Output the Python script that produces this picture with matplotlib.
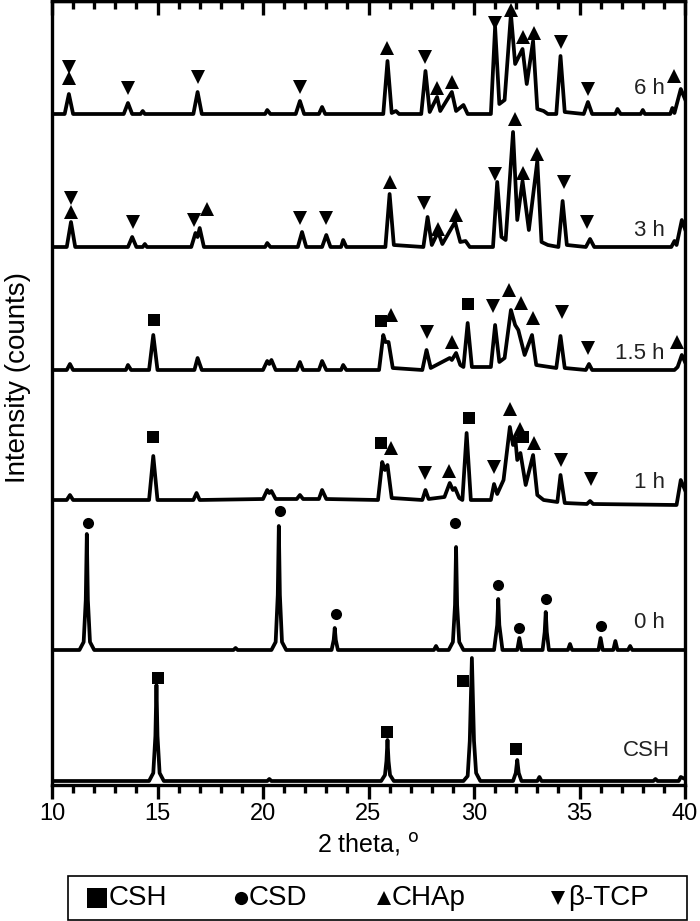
#!/usr/bin/env python3
"""
XRD patterns of CSH conversion, stacked: CSH, 0 h, 1 h, 1.5 h, 3 h, 6 h.
"""

import numpy as np
import matplotlib
matplotlib.use('Agg')  # non-interactive backend
import matplotlib.pyplot as plt
from matplotlib.lines import Line2D
from matplotlib.patches import Rectangle

plt.rcParams['font.family'] = ['Liberation Sans', 'DejaVu Sans']

# ---------------------------------------------------------------------------
# Data: 2 theta vertices and intensity (relative to each pattern's baseline)
# ---------------------------------------------------------------------------
tt_6h = [10.0, 10.6, 10.8, 11.0, 13.4, 13.6, 13.8, 14.2, 14.3, 14.4, 16.7, 16.9, 17.1,
         20.1, 20.2, 20.35, 21.55, 21.75, 21.95, 22.65, 22.8, 22.95, 25.7, 25.9, 26.1,
         26.3, 26.45, 27.5, 27.7, 27.9, 28.25, 28.4, 28.95, 29.15, 29.5, 29.7, 30.8,
         31.0, 31.2, 31.45, 31.75, 31.95, 32.3, 32.5, 32.8, 33.0, 33.3, 33.5, 33.9,
         34.1, 34.3, 35.2, 35.4, 35.6, 36.7, 36.8, 36.95, 37.9, 38.0, 38.1, 39.3,
         39.4, 39.5, 39.8, 40.0]
i_6h = [0, 0, 20, 0, 0, 11, 0, 0, 3, 0, 0, 22, 0,
        0, 4, 0, 0, 13, 0, 0, 7, 0, 0, 53, 1,
        3, 0, 0, 43, 2, 17, 3, 22, 3, 9, 0, 0,
        87, 10, 14, 100, 50, 65, 30, 73, 5, 3, 0, 0,
        58, 2, 0, 12, 0, 0, 5, 0, 0, 4, 0, 0,
        6, 1, 25, 15]

tt_3h = [10.0, 10.7, 10.9, 11.1, 13.6, 13.8, 14.0, 14.3, 14.4, 14.5, 16.6, 16.8, 16.9,
         17.0, 17.2, 20.1, 20.2, 20.35, 21.65, 21.85, 22.05, 22.8, 23.0, 23.2, 23.7,
         23.8, 23.95, 25.8, 26.0, 26.2, 27.6, 27.8, 28.0, 28.3, 28.5, 29.1, 29.35,
         29.6, 29.8, 30.9, 31.1, 31.3, 31.5, 31.85, 32.05, 32.3, 32.6, 33.0, 33.2,
         33.5, 34.0, 34.2, 34.4, 35.3, 35.5, 35.7, 39.35, 39.5, 39.6, 39.85, 40.0]
i_3h = [0, 0, 25, 0, 0, 10, 0, 0, 3, 0, 0, 14, 10,
        19, 0, 0, 4, 0, 0, 15, 0, 0, 12, 0, 0,
        7, 0, 0, 53, 2, 0, 30, 2, 15, 3, 25, 5,
        6, 0, 0, 65, 10, 7, 115, 27, 66, 17, 86, 5,
        2, 0, 46, 2, 0, 8, 0, 0, 6, 2, 27, 18]

tt_15h = [10.0, 10.7, 10.85, 11.0, 13.5, 13.6, 13.75, 14.6, 14.8, 15.0, 16.75, 16.9,
          17.1, 20.0, 20.2, 20.3, 20.4, 20.6, 21.6, 21.75, 21.9, 22.65, 22.8, 23.0,
          23.7, 23.8, 23.95, 25.5, 25.7, 25.8, 25.95, 26.15, 27.55, 27.75, 27.95,
          28.85, 28.95, 29.15, 29.35, 29.5, 29.7, 29.9, 30.8, 31.0, 31.2, 31.45,
          31.75, 31.95, 32.1, 32.4, 32.75, 32.95, 33.9, 34.1, 34.3, 35.3, 35.45,
          35.6, 39.5, 39.65, 39.85, 40.0]
i_15h = [0, 0, 6, 0, 0, 5, 0, 0, 35, 0, 0, 12,
         0, 0, 9, 6, 10, 0, 0, 8, 0, 0, 9, 0,
         0, 5, 0, 0, 35, 28, 28, 2, 0, 20, 2,
         12, 10, 17, 5, 3, 47, 3, 3, 45, 8, 12,
         60, 45, 40, 15, 35, 5, 2, 34, 2, 0, 6,
         0, 0, 3, 15, 8]

tt_1h = [10.0, 10.7, 10.85, 11.0, 14.6, 14.8, 15.0, 16.7, 16.85, 17.0, 20.0, 20.2,
         20.3, 20.4, 20.6, 21.6, 21.75, 21.9, 22.65, 22.8, 23.0, 25.45, 25.65, 25.78,
         25.9, 26.1, 27.55, 27.7, 27.85, 28.6, 28.85, 29.0, 29.1, 29.3, 29.45, 29.65,
         29.85, 30.8, 30.95, 31.1, 31.4, 31.7, 31.85, 31.95, 32.05, 32.2, 32.45, 32.8,
         33.0, 33.3, 33.95, 34.1, 34.3, 35.35, 35.5, 35.65, 39.6, 39.8, 40.0]
i_1h = [0, 0, 5, 0, 0, 44, 0, 0, 7, 0, 1, 10,
        7, 9, 1, 1, 5, 1, 1, 10, 1, 0, 38, 30,
        35, 2, 0, 10, 1, 3, 17, 10, 12, 2, 0, 67,
        0, 0, 16, 6, 20, 73, 55, 63, 40, 47, 15, 45,
        5, 0, -2, 25, -3, -4, -1, -4, -5, 20, 10]

tt_0h = [10.0, 11.3, 11.5, 11.6, 11.65, 11.7, 11.8, 12.0, 18.6, 18.7, 18.8, 20.4,
         20.6, 20.7, 20.75, 20.8, 20.9, 21.1, 23.25, 23.35, 23.4, 23.45, 23.55, 28.1,
         28.2, 28.3, 28.8, 29.0, 29.1, 29.15, 29.2, 29.3, 29.5, 30.95, 31.1, 31.15,
         31.2, 31.35, 32.05, 32.15, 32.25, 33.25, 33.35, 33.4, 33.45, 33.55, 34.45,
         34.55, 34.65, 35.9, 36.0, 36.1, 36.6, 36.7, 36.8, 37.3, 37.4, 37.5, 40.0]
i_0h = [0, 0, 8, 50, 116, 50, 8, 0, 0, 2, 0, 0,
        8, 55, 124, 55, 8, 0, 0, 10, 22, 10, 0, 0,
        4, 0, 0, 8, 45, 103, 45, 8, 0, 0, 25, 51,
        25, 0, 0, 12, 0, 0, 18, 38, 18, 0, 0,
        6, 0, 0, 12, 0, 0, 9, 0, 0, 4, 0, 0]

tt_csh = [10.0, 14.6, 14.8, 14.9, 14.95, 15.0, 15.1, 15.3, 20.2, 20.3, 20.4, 25.6,
          25.78, 25.85, 25.9, 25.95, 26.02, 26.2, 29.5, 29.7, 29.8, 29.9, 30.0, 30.1,
          30.3, 31.85, 31.98, 32.05, 32.12, 32.25, 33.0, 33.1, 33.2, 38.5, 38.6, 38.7,
          39.7, 39.8, 40.0]
i_csh = [0, 0, 8, 45, 96, 45, 8, 0, 0, 2, 0, 0,
         6, 20, 41, 20, 6, 0, 0, 5, 40, 123, 40, 8,
         0, 0, 8, 21, 8, 0, 0, 4, 0, 0, 2, 0,
         0, 4, 2]

patterns = ['CSH', '0 h', '1 h', '1.5 h', '3 h', '6 h']
offsets = [4, 135, 285, 415, 538, 671]
two_theta = [tt_csh, tt_0h, tt_1h, tt_15h, tt_3h, tt_6h]
intensity = [i_csh, i_0h, i_1h, i_15h, i_3h, i_6h]
label_y = [35, 163, 303, 432, 555, 697]

# Phase markers: S = CSH, D = CSD, H = CHAp, T = beta-TCP
mk_x = [15.0, 25.9, 29.5, 32.0,
        11.7, 20.8, 23.45, 29.1, 31.15, 32.15, 33.4, 36.0,
        14.8, 25.6, 26.05, 27.7, 28.8, 29.75, 30.95, 31.7, 32.2, 32.3, 32.85, 34.1, 35.55,
        14.85, 25.6, 26.05, 27.75, 28.95, 29.7, 30.9, 31.65, 32.25, 32.8, 34.15, 35.4, 39.6,
        10.9, 10.9, 13.85, 16.75, 17.35, 21.75, 23.0, 26.0, 27.65, 28.3, 29.15, 31.0,
        31.95, 32.3, 33.0, 34.25, 35.35,
        10.8, 10.8, 13.6, 16.9, 21.75, 25.9, 27.7, 28.25, 28.95, 31.0, 31.75, 32.3,
        32.85, 34.1, 35.4, 39.5]
mk_y = [107, 53, 104, 36,
        262, 274, 171, 262, 200, 157, 186, 159,
        348, 342, 337, 312, 314, 367, 318, 376, 356, 348, 342, 325, 306,
        465, 464, 470, 453, 443, 481, 479, 495, 482, 467, 473, 437, 443,
        587, 573, 563, 565, 576, 567, 567, 603, 582, 556, 570, 611,
        666, 612, 631, 603, 563,
        718, 707, 697, 708, 698, 737, 728, 697, 703, 762, 775, 748,
        752, 743, 696, 709]
mk_phase = list('SSSS' 'DDDDDDDD' 'SSHTHSTHHSHTT' 'SSHTHSTHHHTTH'
                'THTTHTTHTHHTHHHTT' 'THTTTHTHHTHHHTTH')

phase_style = {'S': ('s', 9), 'D': ('o', 8), 'H': ('^', 9.5), 'T': ('v', 9.5)}
legend_names = ['CSH', 'CSD', 'CHAp', 'β-TCP']

# ---------------------------------------------------------------------------
fig = plt.figure(figsize=(7.0, 9.21), dpi=100)
ax = fig.add_axes([52 / 700, (921 - 785) / 921, 633 / 700, 784 / 921])

for name, off, x, y, ly in zip(patterns, offsets, two_theta, intensity, label_y):
    ax.plot(x, np.array(y) + off, color='black', linewidth=2.7,
            solid_joinstyle='round')
    ax.text(39.05 if name != 'CSH' else 39.3, ly, name, ha='right', va='center',
            fontsize=16, color='#222222')

mk_x = np.array(mk_x)
mk_y = np.array(mk_y)
mk_phase = np.array(mk_phase)
for ph, (m, ms) in phase_style.items():
    sel = mk_phase == ph
    ax.plot(mk_x[sel], mk_y[sel], linestyle='none', marker=m, markersize=ms,
            color='black', markeredgewidth=0, clip_on=False)

ax.set_xlim(10, 40)
ax.set_ylim(0, 784)
ax.set_yticks([])
ax.set_xticks(np.arange(10, 41, 5))
ax.set_xticks(np.arange(10, 41, 1), minor=True)
ax.tick_params(axis='x', which='major', direction='out', length=10, width=2.4,
               labelsize=17, pad=3)
ax.tick_params(axis='x', which='minor', direction='out', length=6, width=2.4)
for sp in ax.spines.values():
    sp.set_linewidth(2.4)

top = ax.secondary_xaxis('top')
top.set_xticks(np.arange(10, 41, 5))
top.set_xticks(np.arange(10, 41, 1), minor=True)
top.tick_params(which='major', direction='in', length=10, width=2.4, labeltop=False)
top.tick_params(which='minor', direction='in', length=6, width=2.4)
top.spines['top'].set_linewidth(2.4)

ax.set_xlabel('2 theta, $^{\\mathrm{o}}$', fontsize=18, labelpad=4)
ax.set_ylabel('Intensity (counts)', fontsize=20)
ax.yaxis.set_label_coords(-0.033, 0.52)

# Legend box with the four phases
fig.patches.append(Rectangle((68 / 700, 1 - 920 / 921), 619 / 700, 44 / 921,
                             transform=fig.transFigure, fill=False,
                             edgecolor='black', linewidth=1.2))
leg_mx = [97, 241, 384, 558]
leg_tx = [109, 249, 392, 568]
leg_ms = [14.5, 9.5, 10, 10]
for (ph, (m, _)), name, mx, tx, ms in zip(phase_style.items(), legend_names,
                                          leg_mx, leg_tx, leg_ms):
    fig.add_artist(Line2D([mx / 700], [1 - 898 / 921], marker=m, markersize=ms,
                          color='black', markeredgewidth=0, linestyle='none',
                          transform=fig.transFigure))
    fig.text(tx / 700, 1 - 898 / 921, name, ha='left', va='center', fontsize=20)

plt.savefig('out.png', dpi=100)
print("Plot saved to out.png")
